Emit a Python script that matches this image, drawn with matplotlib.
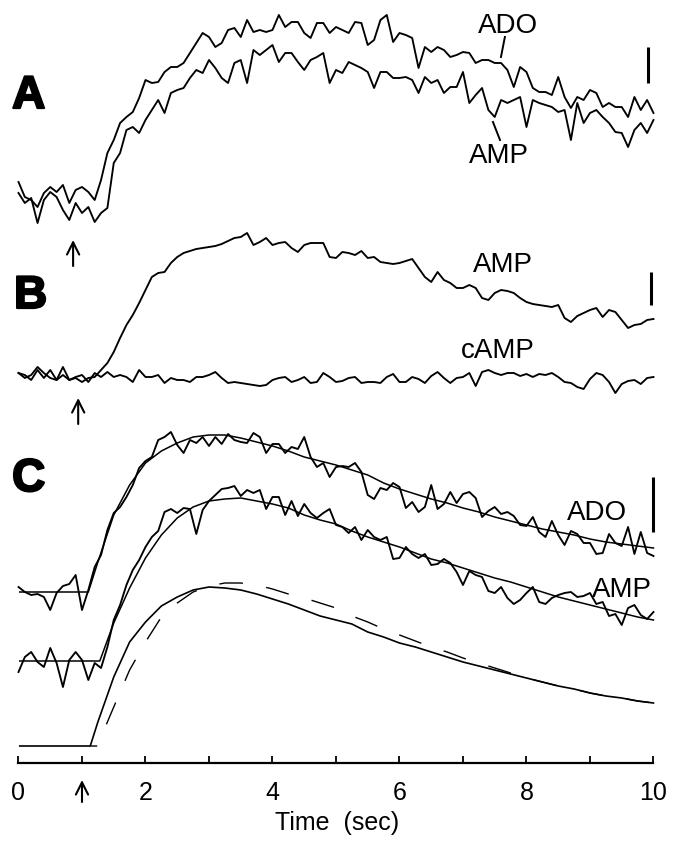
import numpy as np
import matplotlib
matplotlib.use("Agg")
from matplotlib import pyplot as plt
import matplotlib.patheffects as pe

plt.rcParams['font.family'] = ['Liberation Sans', 'DejaVu Sans']

# time grid of the noisy records (sec)
t = np.round(np.arange(0, 101) * 0.1, 2)

# vertical positions below (picture rows, top = 0)
a_ado = [182, 197, 200, 207, 193, 187, 192, 185, 203, 190, 187, 192, 200, 180, 153, 140, 123, 117, 112, 98,
         80, 83, 82, 72, 67, 67, 63, 53, 43, 33, 37, 47, 43, 30, 28, 37, 20, 32, 30, 32,
         30, 15, 27, 22, 22, 33, 38, 23, 23, 33, 27, 30, 33, 22, 23, 45, 40, 20, 15, 42,
         33, 35, 38, 68, 47, 52, 47, 50, 57, 55, 52, 53, 63, 60, 60, 63, 63, 70, 87, 67,
         72, 88, 92, 92, 95, 77, 97, 108, 97, 100, 90, 93, 107, 103, 107, 107, 117, 97, 110, 100,
         113]
a_amp = [193, 203, 198, 223, 200, 192, 197, 210, 220, 203, 213, 207, 222, 213, 208, 163, 153, 130, 127, 133,
         120, 110, 100, 113, 93, 90, 88, 78, 70, 73, 60, 68, 78, 83, 63, 60, 83, 50, 55, 50,
         45, 62, 53, 53, 62, 70, 60, 57, 53, 83, 70, 73, 62, 65, 68, 72, 88, 72, 72, 78,
         78, 77, 80, 93, 77, 83, 80, 93, 87, 87, 72, 103, 95, 88, 110, 117, 100, 103, 100, 97,
         127, 100, 103, 105, 107, 112, 110, 140, 103, 123, 113, 110, 117, 123, 132, 133, 147, 130, 123, 133,
         120]

b_amp = [373, 378, 375, 367, 373, 378, 380, 375, 380, 378, 382, 378, 377, 370, 363, 352, 338, 325, 315, 303,
         290, 277, 273, 272, 263, 257, 253, 251, 249, 248, 247, 246, 244, 241, 238, 237, 233, 245, 242, 238,
         245, 243, 242, 248, 252, 245, 243, 243, 243, 257, 258, 252, 253, 255, 251, 258, 257, 262, 263, 264,
         263, 261, 259, 268, 277, 282, 272, 280, 283, 288, 288, 285, 288, 298, 300, 293, 290, 291, 293, 298,
         302, 304, 305, 306, 307, 305, 318, 322, 316, 313, 310, 308, 317, 310, 312, 320, 328, 325, 324, 320,
         319]
b_camp = [373, 375, 380, 370, 378, 370, 380, 367, 380, 377, 375, 382, 373, 377, 372, 377, 375, 377, 382, 370,
          377, 377, 375, 383, 378, 380, 380, 382, 377, 377, 375, 372, 378, 383, 382, 383, 384, 385, 386, 385,
          380, 378, 377, 382, 380, 377, 383, 382, 373, 377, 382, 381, 378, 377, 383, 382, 382, 383, 377, 374,
          382, 382, 377, 379, 383, 376, 372, 378, 383, 378, 377, 373, 386, 372, 370, 373, 375, 373, 373, 376,
          374, 377, 374, 375, 373, 377, 382, 383, 387, 389, 379, 373, 375, 382, 393, 384, 381, 380, 384, 378,
          377]

c_ado = [587, 592, 595, 594, 597, 610, 593, 586, 584, 575, 610, 590, 567, 555, 530, 513, 507, 497, 485, 468,
         461, 457, 440, 437, 432, 445, 453, 440, 443, 437, 446, 437, 444, 434, 440, 442, 443, 433, 437, 453,
         444, 444, 453, 447, 449, 437, 457, 467, 463, 477, 467, 466, 467, 463, 472, 495, 499, 488, 490, 483,
         487, 508, 502, 512, 507, 485, 509, 504, 492, 503, 494, 492, 498, 517, 511, 507, 514, 512, 516, 525,
         526, 517, 532, 537, 521, 535, 545, 531, 534, 543, 543, 554, 553, 534, 543, 546, 527, 554, 532, 553,
         556]
c_amp = [672, 657, 652, 662, 667, 648, 663, 687, 660, 652, 660, 680, 663, 668, 647, 620, 605, 585, 570, 560,
         547, 537, 531, 512, 509, 513, 508, 509, 534, 510, 501, 495, 489, 488, 486, 496, 490, 493, 490, 509,
         497, 497, 515, 501, 516, 504, 513, 518, 513, 509, 525, 527, 533, 527, 540, 530, 537, 540, 537, 559,
         558, 547, 554, 558, 554, 565, 564, 559, 563, 572, 585, 571, 575, 577, 591, 593, 587, 598, 604, 600,
         593, 587, 602, 604, 598, 595, 593, 592, 597, 596, 593, 604, 602, 616, 614, 625, 608, 605, 615, 619,
         612]

# fitted curves in C
fit_ado_t = [0.02, 1.1, 1.25, 1.5, 1.75, 2.0, 2.25, 2.5, 2.75, 3.0, 3.25, 3.5, 3.75, 4.0, 4.25, 4.5, 4.75, 5.0,
             5.25, 5.5, 5.75, 6.0, 6.25, 6.5, 6.75, 7.0, 7.25, 7.5, 7.75, 8.0, 8.25, 8.5, 8.75, 9.0, 9.25, 9.5,
             9.75, 10.0]
fit_ado = [592, 592, 562, 515, 485, 463, 451, 443, 437, 435, 435, 438, 442, 446, 451, 457, 461, 465,
           470, 475, 483, 489, 494, 499, 503, 508, 512, 517, 521, 525, 529, 532, 535, 539, 542, 544,
           546, 548]
fit_amp_t = [0.02, 1.28, 1.5, 1.75, 2.0, 2.25, 2.5, 2.75, 3.0, 3.25, 3.5, 3.75, 4.0, 4.25, 4.5, 4.75, 5.0,
             5.25, 5.5, 5.75, 6.0, 6.25, 6.5, 6.75, 7.0, 7.25, 7.5, 7.75, 8.0, 8.25, 8.5, 8.75, 9.0, 9.25, 9.5,
             9.75, 10.0]
fit_amp = [661, 661, 623, 588, 558, 535, 518, 507, 501, 499, 498, 501, 504, 508, 515, 520, 524,
           531, 537, 542, 547, 553, 559, 563, 568, 573, 578, 582, 587, 592, 597, 601, 605, 609, 613,
           617, 620]

# model curves (solid / dashed)
model_t = [0.02, 1.13, 1.25, 1.5, 1.75, 2.0, 2.25, 2.5, 2.75, 3.0, 3.25, 3.5, 3.75, 4.0, 4.25, 4.5, 4.75, 5.0,
           5.25, 5.5, 5.75, 6.0, 6.25, 6.5, 6.75, 7.0, 7.25, 7.5, 7.75, 8.0, 8.25, 8.5, 8.75, 9.0, 9.25, 9.5,
           9.75, 10.0]
model_solid = [746, 746, 722, 677, 642, 622, 606, 597, 590, 587, 588, 590, 594, 599, 604, 610, 616, 620,
               624, 632, 637, 643, 647, 652, 657, 662, 666, 670, 674, 678, 682, 686, 689, 693, 696, 698,
               701, 703]
model_dash_t = [1.13, 1.24, 1.5, 1.75, 2.0, 2.25, 2.5, 2.75, 3.0, 3.25, 3.5, 3.75, 4.0, 4.25, 4.5, 4.75, 5.0,
                5.25, 5.5, 5.75, 6.0, 6.25, 6.5, 6.75, 7.0, 7.25, 7.5, 7.75, 8.0, 8.25, 8.5, 8.75, 9.0, 9.25, 9.5,
                9.75, 10.0]
model_dash = [746, 746, 707, 670, 642, 617, 603, 592, 586, 583, 583, 585, 589, 594, 598, 603, 608,
              616, 622, 629, 635, 641, 647, 652, 658, 663, 668, 673, 678, 682, 686, 689, 693, 696, 698,
              701, 703]

fig = plt.figure(figsize=(6.75, 8.43), dpi=100)
ax = fig.add_axes([0, 0, 1, 1])
ax.set_xlim(-0.2913, 10.339)
ax.set_ylim(843, 0)

lw = 1.35
ax.plot(t, a_ado, color='black', lw=lw)
ax.plot(t, a_amp, color='black', lw=lw)
ax.plot(t, b_amp, color='black', lw=lw)
ax.plot(t, b_camp, color='black', lw=lw)
ax.plot(t, c_ado, color='black', lw=lw)
ax.plot(t, c_amp, color='black', lw=lw)
ax.plot(fit_ado_t, fit_ado, color='black', lw=1.1)
ax.plot(fit_amp_t, fit_amp, color='black', lw=1.1)
ax.plot(model_t, model_solid, color='black', lw=1.2)
ax.plot(model_dash_t, model_dash, color='black', lw=1.0, linestyle=(12, (17, 17)))

# scale bars
ax.plot([9.918, 9.918], [47, 83], color='black', lw=2.2, solid_capstyle='butt')
ax.plot([9.961, 9.961], [272, 305], color='black', lw=2.2, solid_capstyle='butt')
ax.plot([9.997, 9.997], [477, 532], color='black', lw=2.2, solid_capstyle='butt')

# labels
lab = dict(fontsize=20, ha='center', va='baseline')
ax.text(7.709, 33, 'ADO', **lab)
ax.text(7.567, 163, 'AMP', **lab)
ax.plot([7.66, 7.598], [37, 57], color='black', lw=1.4)
ax.plot([7.472, 7.583], [122, 140], color='black', lw=1.4)
ax.text(7.63, 272, 'AMP', **lab)
ax.text(7.55, 358, 'cAMP', **lab)
ax.text(9.11, 520, 'ADO', **lab)
ax.text(9.50, 597, 'AMP', **lab)

big = dict(fontsize=33, fontweight='bold', ha='left', va='baseline',
           path_effects=[pe.withStroke(linewidth=1.6, foreground='black')])
ax.text(-0.10, 108, 'A', **big)
ax.text(-0.07, 308, 'B', **big)
ax.text(-0.10, 491, 'C', **big)

# stimulus arrows
arr = dict(arrowstyle='->', lw=1.5, color='black', mutation_scale=22, shrinkA=0, shrinkB=0)
ax.annotate('', xy=(0.86, 240), xytext=(0.86, 266), arrowprops=arr)
ax.annotate('', xy=(0.94, 398), xytext=(0.94, 424), arrowprops=arr)
ax.annotate('', xy=(1.0, 780), xytext=(1.0, 802), arrowprops=arr, annotation_clip=False)

# time axis
for s in ['top', 'left', 'right']:
    ax.spines[s].set_visible(False)
ax.spines['bottom'].set_position(('data', 763))
ax.spines['bottom'].set_bounds(0, 10)
ax.spines['bottom'].set_linewidth(1.6)
ax.set_xticks([0, 2, 4, 6, 8, 10])
ax.set_xticks([1, 3, 5, 7, 9], minor=True)
ax.tick_params(axis='x', which='both', direction='in', length=5, width=1.3, labelsize=18, pad=13)
ax.set_yticks([])
ax.set_xlabel('Time  (sec)', fontsize=18, labelpad=4)

fig.savefig('out.png', dpi=100)
